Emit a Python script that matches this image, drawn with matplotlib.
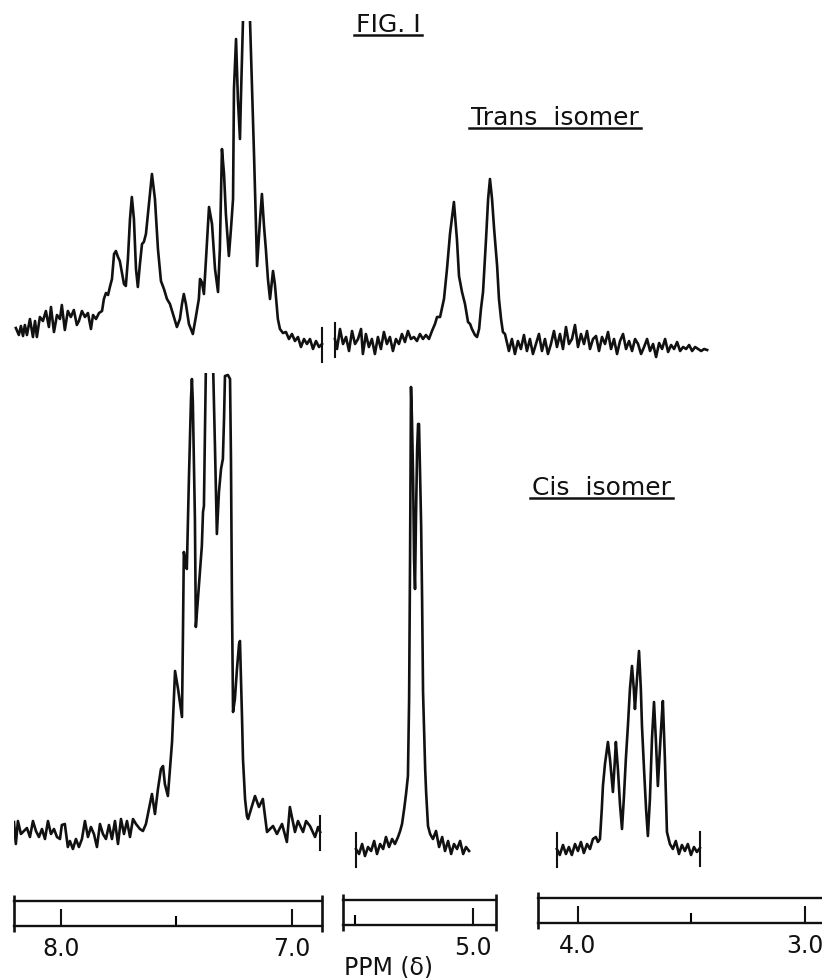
"""FIG. I - NMR spectra of the trans and cis isomers (redrawn from the scan)."""
import matplotlib
matplotlib.use("Agg")
import matplotlib.pyplot as plt
from matplotlib.lines import Line2D
from matplotlib.transforms import IdentityTransform

plt.rcParams["font.family"] = ["DejaVu Sans"]

W, H = 822, 979
INK = "#111111"

# trans isomer, aromatic region (ppm, chart height)
TRANS_AR_PPM = [8.195, 8.182, 8.173, 8.164, 8.156, 8.147, 8.134, 8.121, 8.112, 8.104,
                8.091, 8.078, 8.065, 8.052, 8.043, 8.030, 8.017, 8.004, 7.996, 7.983,
                7.970, 7.957, 7.944, 7.931, 7.922, 7.909, 7.896, 7.883, 7.870, 7.861,
                7.848, 7.835, 7.822, 7.814, 7.805, 7.796, 7.788, 7.779, 7.770, 7.762,
                7.753, 7.745, 7.727, 7.719, 7.710, 7.701, 7.693, 7.684, 7.675, 7.667,
                7.658, 7.649, 7.641, 7.632, 7.619, 7.606, 7.593, 7.580, 7.567, 7.554,
                7.541, 7.528, 7.511, 7.498, 7.485, 7.476, 7.468, 7.459, 7.446, 7.429,
                7.416, 7.403, 7.398, 7.390, 7.381, 7.372, 7.359, 7.346, 7.333, 7.320,
                7.312, 7.303, 7.294, 7.286, 7.273, 7.264, 7.255, 7.251, 7.242, 7.234,
                7.225, 7.221, 7.212, 7.199, 7.182, 7.164, 7.151, 7.138, 7.130, 7.121,
                7.113, 7.104, 7.095, 7.082, 7.074, 7.061, 7.052, 7.039, 7.026, 7.013,
                7.000, 6.987, 6.974, 6.961, 6.948, 6.935, 6.922, 6.909, 6.896, 6.883, 6.870]
TRANS_AR_INT = [6, -1, 8, -2, 9, -1, 15, -3, 13, -3,
                17, 13, 23, 7, 27, 2, 19, 15, 29, 4,
                23, 17, 24, 9, 13, 23, 17, 21, 5, 19,
                15, 21, 23, 35, 41, 39, 47, 55, 80, 83,
                77, 73, 50, 48, 75, 115, 137, 115, 65, 47,
                70, 90, 92, 100, 130, 160, 135, 85, 53, 45,
                35, 30, 17, 7, 15, 30, 40, 30, 10, 0,
                17, 35, 55, 52, 40, 75, 127, 110, 65, 42,
                85, 185, 160, 120, 78, 105, 135, 245, 295, 235,
                195, 235, 313, 355, 317, 178, 68, 115, 140, 108,
                85, 55, 35, 63, 50, 15, 5, 1, 2, -5,
                0, -7, -3, -13, -5, -10, -5, -15, -7, -13, -10]

# trans isomer, 5.8 - 4.2 ppm
TRANS_OL_PPM = [5.814, 5.805, 5.792, 5.779, 5.766, 5.753, 5.740, 5.727, 5.714, 5.701,
                5.693, 5.680, 5.667, 5.654, 5.641, 5.628, 5.615, 5.602, 5.589, 5.576,
                5.563, 5.550, 5.537, 5.524, 5.511, 5.498, 5.485, 5.472, 5.459, 5.446,
                5.433, 5.420, 5.407, 5.394, 5.381, 5.372, 5.359, 5.342, 5.329, 5.316,
                5.299, 5.286, 5.277, 5.264, 5.251, 5.238, 5.229, 5.221, 5.208, 5.199,
                5.190, 5.182, 5.173, 5.160, 5.151, 5.143, 5.134, 5.125, 5.112, 5.104,
                5.095, 5.087, 5.078, 5.061, 5.048, 5.035, 5.022, 5.009, 4.996, 4.983,
                4.970, 4.957, 4.944, 4.931, 4.918, 4.905, 4.892, 4.879, 4.866, 4.853,
                4.840, 4.827, 4.814, 4.801, 4.788, 4.775, 4.762, 4.749, 4.736, 4.723,
                4.710, 4.697, 4.684, 4.671, 4.658, 4.645, 4.632, 4.619, 4.606, 4.593,
                4.580, 4.567, 4.554, 4.541, 4.528, 4.515, 4.502, 4.489, 4.476, 4.463,
                4.450, 4.437, 4.424, 4.411, 4.398, 4.385, 4.372, 4.359, 4.346, 4.333,
                4.320, 4.307, 4.294, 4.281, 4.268, 4.255, 4.242, 4.229, 4.216, 4.203]
TRANS_OL_INT = [-5, -15, 5, -10, -3, -17, 3, -10, -5, 5,
                -20, 0, -13, -5, -20, -3, -15, 2, -10, -3,
                -17, -5, -10, 0, -8, 3, -5, -3, -7, 0,
                -5, -1, -5, 3, 10, 17, 17, 35, 65, 100,
                132, 95, 58, 42, 30, 12, 10, 5, -1, -3,
                5, 25, 42, 95, 135, 155, 135, 105, 68, 35,
                15, 2, 0, -17, -5, -20, -7, -15, -1, -17,
                -5, -20, -10, 0, -17, -5, -20, -10, 3, -13,
                0, -15, 7, -10, -5, 9, -13, 0, -10, 3,
                -15, -5, -2, -17, -3, -10, 2, -15, -5, -20,
                -7, 0, -15, -7, -17, -5, -10, -20, -13, -5,
                -17, -10, -23, -9, -15, -5, -18, -11, -15, -8,
                -17, -13, -15, -11, -17, -13, -15, -17, -15, -16]

# cis isomer, aromatic region
CIS_AR_PPM = [8.203, 8.195, 8.186, 8.173, 8.160, 8.147, 8.134, 8.121, 8.108, 8.095,
              8.082, 8.069, 8.056, 8.043, 8.030, 8.017, 8.004, 7.996, 7.983, 7.970,
              7.961, 7.948, 7.935, 7.922, 7.909, 7.896, 7.883, 7.870, 7.857, 7.844,
              7.831, 7.818, 7.805, 7.792, 7.779, 7.766, 7.753, 7.740, 7.727, 7.714,
              7.701, 7.688, 7.675, 7.658, 7.645, 7.632, 7.619, 7.606, 7.593, 7.580,
              7.567, 7.558, 7.550, 7.537, 7.528, 7.519, 7.506, 7.493, 7.476, 7.472,
              7.468, 7.463, 7.455, 7.446, 7.437, 7.433, 7.429, 7.420, 7.416, 7.407,
              7.390, 7.385, 7.381, 7.377, 7.372, 7.359, 7.342, 7.333, 7.325, 7.316,
              7.307, 7.299, 7.294, 7.290, 7.277, 7.268, 7.264, 7.260, 7.255, 7.247,
              7.238, 7.229, 7.225, 7.221, 7.216, 7.212, 7.203, 7.195, 7.190, 7.160,
              7.143, 7.126, 7.108, 7.082, 7.065, 7.043, 7.022, 7.009, 6.987, 6.974,
              6.952, 6.939, 6.922, 6.900, 6.887, 6.878]
CIS_AR_INT = [12, -10, 13, 0, 3, 6, -3, 13, 3, -3,
              5, -5, 13, 0, 5, -3, -5, 9, 10, -13,
              -7, -15, -5, -13, -5, 13, -3, 7, 0, -13,
              10, 0, -5, 9, -5, 13, -10, 15, 0, 13,
              -3, 15, 10, 5, 3, 10, 25, 40, 20, 45,
              65, 68, 50, 38, 65, 92, 163, 145, 117, 195,
              282, 275, 265, 355, 435, 455, 432, 315, 207, 235,
              288, 322, 328, 395, 475, 505, 475, 385, 300, 342,
              365, 375, 415, 458, 459, 455, 375, 242, 122, 135,
              165, 190, 193, 158, 115, 75, 35, 18, 15, 38,
              27, 35, 2, 8, 0, 10, -8, 27, 2, 13,
              2, 13, 8, -3, 7, 2]

# cis isomer, 5.5 - 5.0 ppm doublet
CIS_OL_PPM = [5.496, 5.483, 5.470, 5.458, 5.445, 5.432, 5.419, 5.407, 5.394, 5.381,
              5.369, 5.356, 5.343, 5.331, 5.318, 5.309, 5.301, 5.292, 5.284, 5.276,
              5.271, 5.267, 5.263, 5.259, 5.254, 5.250, 5.246, 5.242, 5.237, 5.233,
              5.229, 5.225, 5.220, 5.216, 5.212, 5.203, 5.199, 5.191, 5.182, 5.170,
              5.157, 5.144, 5.131, 5.119, 5.106, 5.093, 5.081, 5.068, 5.055, 5.042,
              5.030, 5.017]
CIS_OL_INT = [-15, -20, -10, -22, -13, -17, -7, -20, -10, -15,
              -3, -13, -5, -10, -3, 3, 10, 25, 40, 58,
              135, 275, 447, 415, 355, 275, 245, 315, 385, 410,
              410, 365, 308, 235, 142, 65, 42, 8, 0, -5,
              3, -13, -3, -17, -7, -20, -10, -15, -7, -20,
              -13, -17]

# cis isomer, 4.1 - 3.45 ppm multiplet
CIS_AL_PPM = [4.093, 4.080, 4.066, 4.053, 4.040, 4.027, 4.013, 4.000, 3.987, 3.974,
              3.960, 3.947, 3.934, 3.921, 3.912, 3.903, 3.895, 3.890, 3.881, 3.868,
              3.859, 3.846, 3.837, 3.833, 3.824, 3.815, 3.806, 3.798, 3.789, 3.780,
              3.771, 3.762, 3.754, 3.749, 3.740, 3.731, 3.723, 3.718, 3.709, 3.700,
              3.692, 3.683, 3.674, 3.665, 3.657, 3.648, 3.639, 3.630, 3.626, 3.617,
              3.608, 3.595, 3.582, 3.569, 3.555, 3.542, 3.529, 3.516, 3.502, 3.489,
              3.476, 3.463]
CIS_AL_INT = [-15, -21, -11, -20, -13, -21, -10, -17, -8, -19,
              -10, -15, -5, -3, -8, -5, 25, 48, 70, 92,
              75, 42, 75, 92, 65, 30, 5, 35, 75, 108,
              145, 168, 145, 125, 155, 183, 145, 108, 65, 25,
              -2, 35, 95, 132, 95, 48, 85, 120, 133, 75,
              2, -10, -15, -7, -20, -11, -17, -10, -21, -13,
              -18, -14]

fig = plt.figure(figsize=(W / 100, H / 100), dpi=100)
fig.patch.set_facecolor("white")


def box(x0, y0, x1, y1):
    # pixel box (from top-left) -> figure fraction rect
    return [x0 / W, 1 - y1 / H, (x1 - x0) / W, (y1 - y0) / H]


def trace(rect, xlim, ylim, ppm, inten, breaks=()):
    ax = fig.add_axes(box(*rect))
    ax.set_xlim(*xlim); ax.set_ylim(*ylim); ax.axis("off")
    ax.plot(ppm, inten, color=INK, lw=1.9, solid_joinstyle="round")
    # little break marks where the sweep was cut
    for i in breaks:
        ax.plot([ppm[i], ppm[i]], [inten[i] - 18, inten[i] + 16], color=INK, lw=1.5,
                clip_on=False)
    return ax


def ruler(rect, xlim, major, labels, minor, right_cap=True):
    ax = fig.add_axes(box(*rect))
    ax.set_xlim(*xlim); ax.set_ylim(0, 1)
    ax.patch.set_alpha(0)
    for s in ("left", "right"):
        ax.spines[s].set_visible(False)
    for s in ("top", "bottom"):
        ax.spines[s].set_linewidth(1.7); ax.spines[s].set_color(INK)
    ax.set_yticks([])
    ax.set_xticks(major, labels)
    ax.set_xticks(minor, minor=True)
    ax.tick_params(axis="x", which="major", direction="in", length=12, width=1.5,
                   pad=7, labelsize=17, colors=INK)
    ax.tick_params(axis="x", which="minor", direction="in", length=7, width=1.5)
    caps = [xlim[0]] + ([xlim[1]] if right_cap else [])
    ax.vlines(caps, -0.25, 1.25, colors=INK, lw=1.9, clip_on=False)
    return ax


def label(x, y, s, size, underline=False):
    t = fig.text(x / W, 1 - y / H, s, ha="center", va="baseline", fontsize=size, color=INK)
    if underline:
        fig.canvas.draw()
        bb = t.get_window_extent()
        fig.add_artist(Line2D([bb.x0 - 2, bb.x1 + 2], [bb.y0 + 1, bb.y0 + 1], color=INK,
                              lw=1.8, transform=IdentityTransform()))


# top: trans isomer
trace((14, 22, 325, 390), (8.203, 6.857), (-55, 313), TRANS_AR_PPM, TRANS_AR_INT, breaks=[-1])
trace((328, 22, 715, 390), (5.844, 4.169), (-55, 313), TRANS_OL_PPM, TRANS_OL_INT, breaks=[0])

# bottom: cis isomer
trace((14, 374, 322, 880), (8.203, 6.870), (-45, 461), CIS_AR_PPM, CIS_AR_INT, breaks=[-1])
trace((343, 374, 496, 880), (5.551, 4.903), (-45, 461), CIS_OL_PPM, CIS_OL_INT, breaks=[0])
trace((538, 374, 822, 880), (4.176, 2.925), (-45, 461), CIS_AL_PPM, CIS_AL_INT, breaks=[0, -1])

# chart-paper scales
ruler((14, 902, 322, 927), (8.203, 6.870), [8.0, 7.0], ["8.0", "7.0"], [7.5])
ruler((343, 901, 496, 926), (5.551, 4.903), [5.0], ["5.0"], [5.5])
ruler((538, 899, 822, 924), (4.176, 2.925), [4.0, 3.0], ["4.0", "3.0"], [3.5], right_cap=False)

label(388, 32, "FIG. I", 18, underline=True)
label(555, 125, "Trans  isomer", 18, underline=True)
label(601, 495, "Cis  isomer", 18, underline=True)
label(388, 975, "PPM (δ)", 17)

fig.savefig("out.png", dpi=100, facecolor="white")
plt.close(fig)
